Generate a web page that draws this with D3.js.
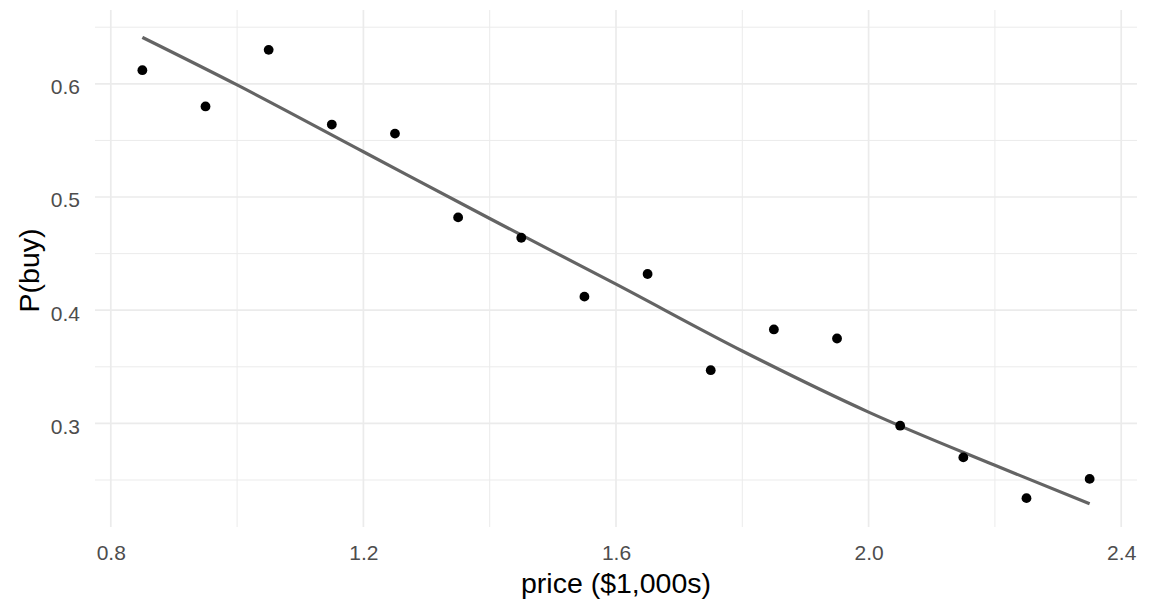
<!DOCTYPE html>
<html>
<head>
<meta charset="utf-8">
<script src="https://cdn.jsdelivr.net/npm/d3@7"></script>
<style>
  body { margin: 0; background: #fff; }
  text { font-family: Arial, "Liberation Sans", sans-serif; }
</style>
</head>
<body>
<div id="chart"></div>
<script>
// observed points
var price = [0.85, 0.95, 1.05, 1.15, 1.25, 1.35, 1.45, 1.55, 1.65, 1.75, 1.85, 1.95, 2.05, 2.15, 2.25, 2.35];
var pBuy = [0.612, 0.580, 0.630, 0.564, 0.556, 0.482, 0.464, 0.412, 0.432, 0.347, 0.383, 0.375, 0.298, 0.270, 0.234, 0.251];
// smooth line
var fitX = [0.85, 1.0, 1.2, 1.4, 1.6, 1.8, 2.0, 2.2, 2.35];
var fitY = [0.641, 0.599, 0.540, 0.481, 0.423, 0.364, 0.310, 0.263, 0.229];
var xTicks = [0.8, 1.2, 1.6, 2.0, 2.4];
var xMinor = [1.0, 1.4, 1.8, 2.2];
var yTicks = [0.3, 0.4, 0.5, 0.6];
var yMinor = [0.25, 0.35, 0.45, 0.55, 0.65];

var W = 1152, H = 614;
var svg = d3.select("#chart").append("svg").attr("width", W).attr("height", H);

// panel edges (not "top": that name is taken by window.top)
var pLeft = 95, pRight = 1137, pTop = 10, pBottom = 527;
var x = d3.scaleLinear().domain([0.775, 2.425]).range([pLeft, pRight]);
var y = d3.scaleLinear().domain([0.2085, 0.6652]).range([pBottom, pTop]);

var grid = svg.append("g");
// minor grid
grid.selectAll(".vmin").data(xMinor).enter().append("line")
    .attr("x1", d => x(d)).attr("x2", d => x(d)).attr("y1", pTop).attr("y2", pBottom)
    .attr("stroke", "#ebebeb").attr("stroke-width", 1);
grid.selectAll(".hmin").data(yMinor).enter().append("line")
    .attr("y1", d => y(d)).attr("y2", d => y(d)).attr("x1", pLeft).attr("x2", pRight)
    .attr("stroke", "#ebebeb").attr("stroke-width", 1);
// major grid
grid.selectAll(".vmaj").data(xTicks).enter().append("line")
    .attr("x1", d => x(d)).attr("x2", d => x(d)).attr("y1", pTop).attr("y2", pBottom)
    .attr("stroke", "#ebebeb").attr("stroke-width", 1.7);
grid.selectAll(".hmaj").data(yTicks).enter().append("line")
    .attr("y1", d => y(d)).attr("y2", d => y(d)).attr("x1", pLeft).attr("x2", pRight)
    .attr("stroke", "#ebebeb").attr("stroke-width", 1.7);

// axes, ggplot minimal style: labels only
var xAxis = svg.append("g").attr("transform", "translate(0," + pBottom + ")")
    .call(d3.axisBottom(x).tickValues(xTicks).tickFormat(d3.format(".1f")).tickSize(0).tickPadding(18));
var yAxis = svg.append("g").attr("transform", "translate(" + pLeft + ",0)")
    .call(d3.axisLeft(y).tickValues(yTicks).tickFormat(d3.format(".1f")).tickSize(0).tickPadding(15));
yAxis.selectAll("text").attr("dy", "0.47em");
[xAxis, yAxis].forEach(function(a){
    a.select(".domain").remove();
    a.selectAll("text").attr("fill", "#4d4d4d").style("font-size", "21px")
        .style("font-family", "Arial, 'Liberation Sans', sans-serif");
});

// smooth line
var line = d3.line().x((d, i) => x(fitX[i])).y(d => y(d)).curve(d3.curveMonotoneX);
svg.append("path").datum(fitY).attr("d", line)
    .attr("fill", "none").attr("stroke", "#646464").attr("stroke-width", 3.2);

// points
svg.selectAll("circle").data(pBuy).enter().append("circle")
    .attr("cx", (d, i) => x(price[i])).attr("cy", d => y(d)).attr("r", 4.9).attr("fill", "#000");

// titles
svg.append("text").text("price ($1,000s)")
    .attr("x", (pLeft + pRight) / 2).attr("y", 593).attr("text-anchor", "middle")
    .style("font-size", "28.5px").attr("fill", "#000");
svg.append("text").text("P(buy)")
    .attr("transform", "translate(38.5," + ((pTop + pBottom) / 2 + 2) + ") rotate(-90)")
    .attr("text-anchor", "middle").style("font-size", "28.5px").attr("fill", "#000");
</script>
</body>
</html>
